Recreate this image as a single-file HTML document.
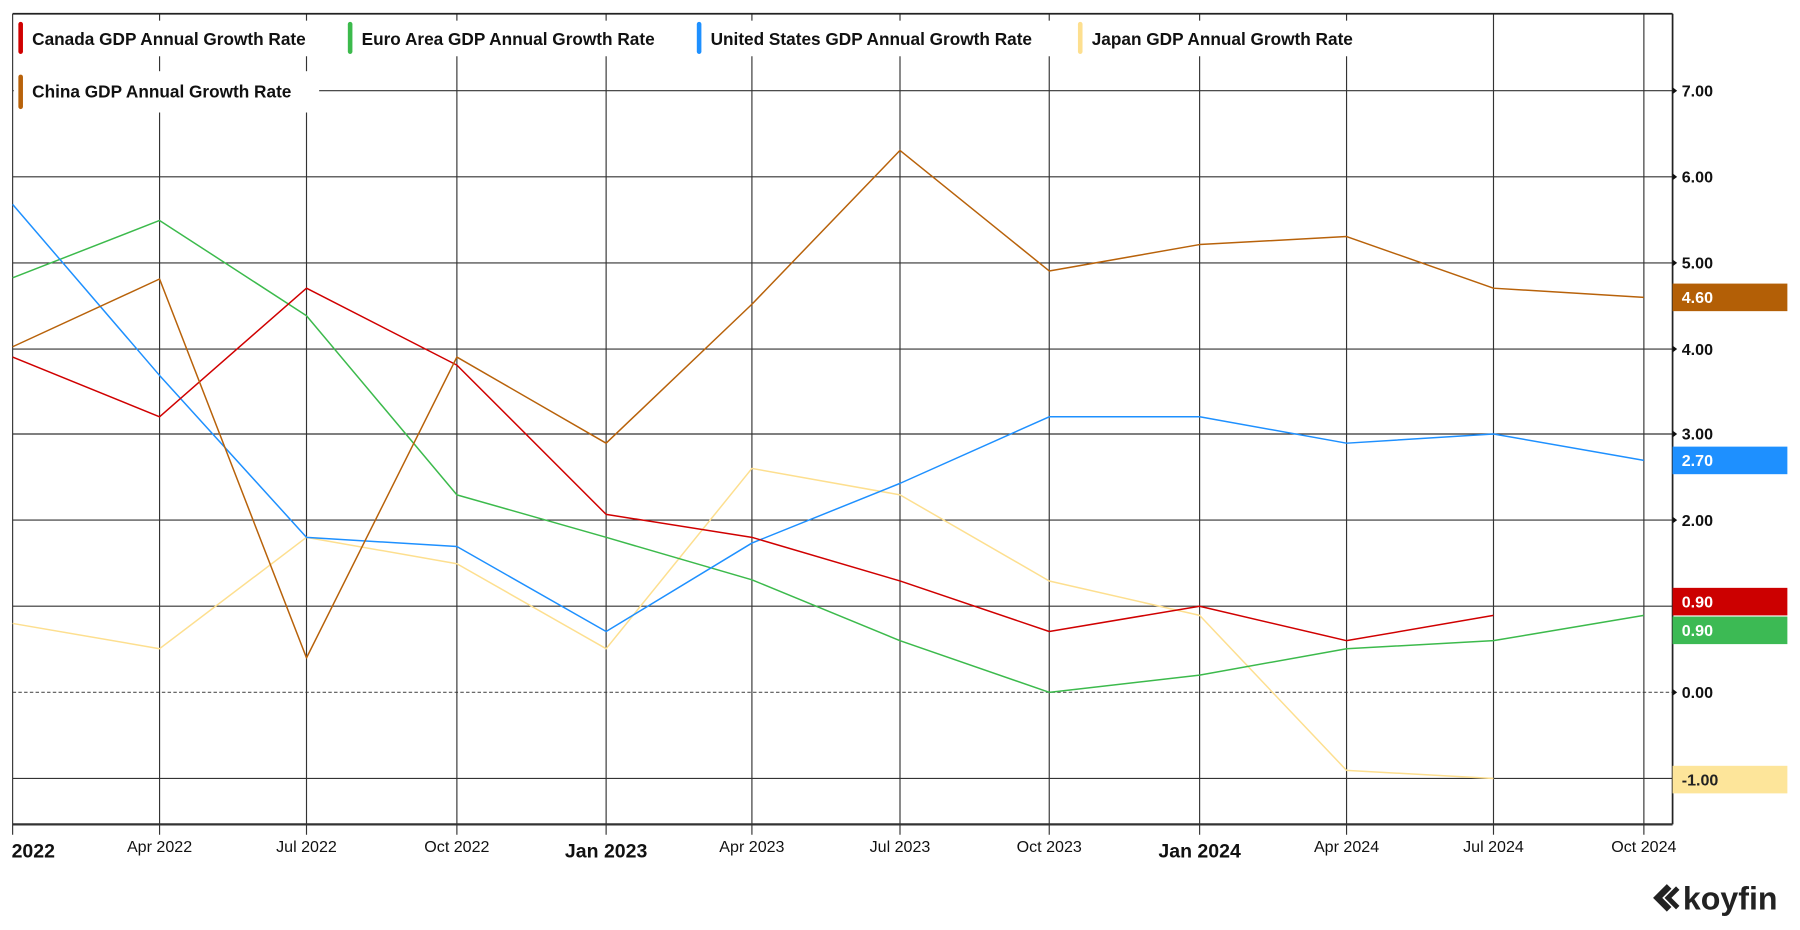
<!DOCTYPE html>
<html><head><meta charset="utf-8"><style>
html,body{margin:0;padding:0;background:#fff;}
svg{display:block;font-family:"Liberation Sans",sans-serif;}
</style></head><body>
<svg width="1800" height="930" viewBox="0 0 1568 810" preserveAspectRatio="none" xmlns="http://www.w3.org/2000/svg">
<rect width="1568" height="810" fill="#fff"/>
<g stroke="#333" stroke-width="1">
<line x1="11" y1="79" x2="1457" y2="79"/>
<line x1="11" y1="154" x2="1457" y2="154"/>
<line x1="11" y1="229" x2="1457" y2="229"/>
<line x1="11" y1="304" x2="1457" y2="304"/>
<line x1="11" y1="378" x2="1457" y2="378"/>
<line x1="11" y1="453" x2="1457" y2="453"/>
<line x1="11" y1="528" x2="1457" y2="528"/>
<line x1="11" y1="678" x2="1457" y2="678"/>
<line x1="11" y1="603" x2="1457" y2="603" stroke-dasharray="3,2" stroke="#555"/>
<line x1="139" y1="12" x2="139" y2="727"/>
<line x1="267" y1="12" x2="267" y2="727"/>
<line x1="398" y1="12" x2="398" y2="727"/>
<line x1="528" y1="12" x2="528" y2="727"/>
<line x1="655" y1="12" x2="655" y2="727"/>
<line x1="784" y1="12" x2="784" y2="727"/>
<line x1="914" y1="12" x2="914" y2="727"/>
<line x1="1045" y1="12" x2="1045" y2="727"/>
<line x1="1173" y1="12" x2="1173" y2="727"/>
<line x1="1301" y1="12" x2="1301" y2="727"/>
<line x1="1432" y1="12" x2="1432" y2="727"/>
<line x1="11" y1="12" x2="11" y2="727"/>
</g>
<line x1="11" y1="12" x2="1457" y2="12" stroke="#222" stroke-width="1.5"/>
<line x1="1457" y1="12" x2="1457" y2="718" stroke="#222" stroke-width="1.5"/>
<line x1="11" y1="718" x2="1457" y2="718" stroke="#333" stroke-width="2"/>
<g fill="#111">
<path d="M1457 76l4 3-4 3z"/><path d="M1457 151l4 3-4 3z"/><path d="M1457 226l4 3-4 3z"/><path d="M1457 301l4 3-4 3z"/><path d="M1457 375l4 3-4 3z"/><path d="M1457 450l4 3-4 3z"/><path d="M1457 600l4 3-4 3z"/>
</g>
<!-- legend backgrounds -->
<g fill="#fff">
<rect x="12" y="18" width="268" height="31"/>
<rect x="300" y="18" width="285" height="31"/>
<rect x="604" y="18" width="312" height="31"/>
<rect x="936" y="18" width="260" height="31"/>
<rect x="12" y="62" width="266" height="36"/>
</g>
<g fill="none" stroke-width="1.3" stroke-linejoin="round">
<polyline stroke="#fddf8f" points="11,543 139,565 267,468 398,491 528,565 655,408 784,431 914,506 1045,536 1173,671 1301,678"/>
<polyline stroke="#3cba4c" points="11,242 139,192 267,275 398,431 528,468 655,505 784,558 914,603 1045,588 1173,565 1301,558 1432,536"/>
<polyline stroke="#1e90ff" points="11,178 139,327 267,468 398,476 528,550 655,473 784,421 914,363 1045,363 1173,386 1301,378 1432,401"/>
<polyline stroke="#d00000" points="11,311 139,363 267,251 398,318 528,448 655,468 784,506 914,550 1045,528 1173,558 1301,536"/>
<polyline stroke="#b8620a" points="11,302 139,243 267,573 398,311 528,386 655,265 784,131 914,236 1045,213 1173,206 1301,251 1432,259"/>
</g>
<g font-size="15" font-weight="bold" fill="#111">
<rect x="16" y="19" width="4" height="28" rx="2" fill="#d00000"/><text x="28" y="39">Canada GDP Annual Growth Rate</text>
<rect x="303" y="19" width="4" height="28" rx="2" fill="#3cba4c"/><text x="315" y="39">Euro Area GDP Annual Growth Rate</text>
<rect x="607" y="19" width="4" height="28" rx="2" fill="#1e90ff"/><text x="619" y="39">United States GDP Annual Growth Rate</text>
<rect x="939" y="19" width="4" height="28" rx="2" fill="#fddf8f"/><text x="951" y="39">Japan GDP Annual Growth Rate</text>
<rect x="16" y="65" width="4" height="30" rx="2" fill="#b8620a"/><text x="28" y="85">China GDP Annual Growth Rate</text>
</g>
<g font-size="14" fill="#111" font-weight="bold">
<text x="1465" y="84">7.00</text><text x="1465" y="159">6.00</text><text x="1465" y="234">5.00</text><text x="1465" y="309">4.00</text><text x="1465" y="383">3.00</text><text x="1465" y="458">2.00</text><text x="1465" y="608">0.00</text>
</g>
<rect x="1457" y="247" width="100" height="24" fill="#b35f06"/>
<rect x="1457" y="389" width="100" height="24" fill="#1e90ff"/>
<rect x="1457" y="512" width="100" height="24" fill="#cc0000"/>
<rect x="1457" y="537" width="100" height="24" fill="#3cba54"/>
<rect x="1457" y="667" width="100" height="24" fill="#fde59a"/>
<g font-size="14" font-weight="bold" fill="#fff">
<text x="1465" y="264">4.60</text><text x="1465" y="406">2.70</text><text x="1465" y="529">0.90</text><text x="1465" y="554">0.90</text>
<text x="1465" y="684" fill="#222">-1.00</text>
</g>
<g font-size="14" fill="#111" text-anchor="middle">
<text x="139" y="742">Apr 2022</text><text x="267" y="742">Jul 2022</text><text x="398" y="742">Oct 2022</text>
<text x="655" y="742">Apr 2023</text><text x="784" y="742">Jul 2023</text><text x="914" y="742">Oct 2023</text>
<text x="1173" y="742">Apr 2024</text><text x="1301" y="742">Jul 2024</text><text x="1432" y="742">Oct 2024</text>
<g font-size="17" font-weight="bold"><text x="29" y="747">2022</text><text x="528" y="747">Jan 2023</text><text x="1045" y="747">Jan 2024</text></g>
</g>
<g fill="#222">
<path d="M1452 770 l-12 12 12 12 4-4 -8-8 8-8z"/><path d="M1460 772 l-10 10 10 10 3-3 -7-7 7-7z"/>
<text x="1466" y="792" font-size="28" font-weight="bold">koyfin</text>
</g>
</svg>
</body></html>
